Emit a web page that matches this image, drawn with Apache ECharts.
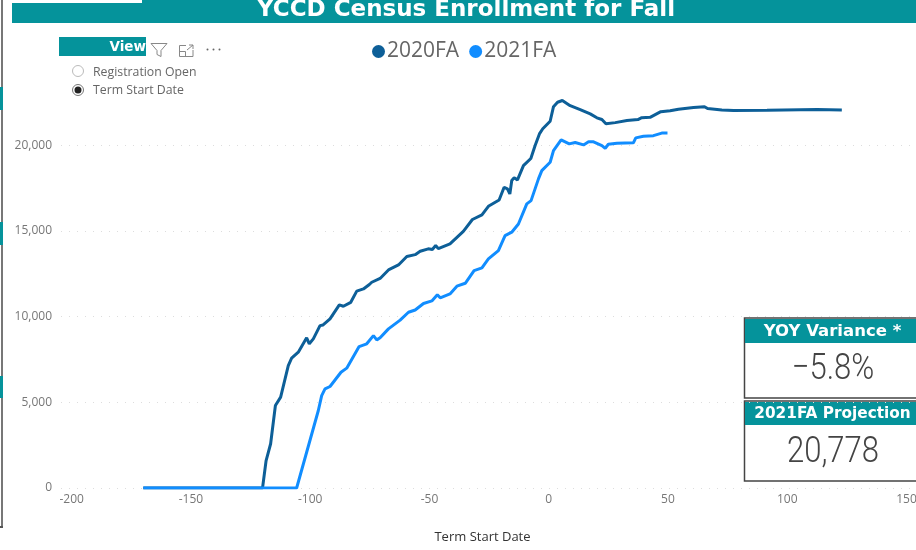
<!DOCTYPE html>
<html>
<head>
<meta charset="utf-8">
<style>html,body{margin:0;padding:0;background:#fff}#chart{width:916px;height:550px}</style>
<script src="https://cdn.jsdelivr.net/npm/echarts@6/dist/echarts.min.js"></script>
</head>
<body>
<div id="chart"></div>
<script>
// values
var days2020 = [-170,-120,-118.5,-116.6,-114.6,-112.4,-109.2,-107.8,-105,-101.5,-100.4,-98.7,-95.9,-94.6,-91.7,-87.8,-86.1,-83,-80.5,-77.7,-75.2,-74.2,-70.7,-67,-63,-59.5,-56,-53.9,-50.5,-48.8,-47.4,-46.3,-41.4,-35.8,-32,-28,-25.3,-20.8,-18.7,-17.3,-16.3,-15.5,-14.5,-13.1,-10.6,-7.5,-5.7,-3.9,-2.5,0.6,2,3.7,5.7,9,13.2,17.4,20.2,22.3,24,27.9,32.8,37.4,39,42.5,47,50.9,54.4,60.7,65.3,66.6,72.6,77.5,91.5,112.5,122.9];
var values2020 = [0,0,1600,2580,4810,5300,7140,7570,7920,8760,8410,8700,9470,9510,9860,10680,10600,10830,11480,11610,11870,12000,12220,12740,13010,13500,13610,13810,13950,13910,14140,13960,14240,14970,15660,15930,16430,16800,17540,17450,17150,17930,18090,17970,18800,19220,19970,20650,20950,21390,22240,22500,22600,22300,22070,21820,21590,21490,21240,21310,21430,21490,21600,21620,21950,22000,22090,22190,22240,22130,22050,22010,22030,22070,22050];
var days2021 = [-170,-105.7,-96.6,-95.2,-93.8,-91.7,-87.1,-84.7,-79.5,-76.3,-73.5,-72.1,-70.7,-67.2,-62.3,-58.8,-56,-52.5,-49,-46.7,-45.5,-41.4,-38.5,-35,-31.3,-28,-25.3,-21.1,-18.3,-15.5,-12.7,-9.2,-7.4,-4.3,-2.9,0.6,2,5.2,8.6,11.1,14.6,16.7,18.8,22.3,23.7,25,28.6,35.5,36.5,39.7,43.9,47.4,49.8];
var values2021 = [0,0,4520,5390,5780,5920,6750,6990,8250,8410,8890,8640,8760,9280,9790,10250,10380,10760,10910,11270,11090,11320,11770,11940,12680,12840,13360,13850,14720,14920,15400,16570,16760,18030,18510,19000,19680,20300,20070,20150,20010,20190,20190,19970,19810,20050,20110,20130,20420,20510,20550,20700,20700];
var xTicks = [-200,-150,-100,-50,0,50,100,150];
var yTicks = [0,5000,10000,15000,20000];

function zip(a, b) {
    return a.map(function (d, i) { return [d, b[i]]; });
}

var teal = '#05939b';
var uiFont = '"Open Sans", "Noto Sans", sans-serif';
var iconLine = {fill: 'none', stroke: '#888', lineWidth: 1};

function tealRect(x, y, w, h) {
    return {type: 'rect', shape: {x: x, y: y, width: w, height: h}, style: {fill: teal}};
}
function label(x, y, text, font, fill, align) {
    return {type: 'text', x: x, y: y, style: {text: text, font: font, fill: fill, align: align || 'left', verticalAlign: 'middle'}};
}
function dot(cx) {
    return {type: 'circle', shape: {cx: cx, cy: 49.5, r: 1}, style: {fill: '#666'}};
}
function card(y, h, headH, head, headSize, value) {
    var big = label(833, y + headH + (h - headH) / 2, value, '300 37px Roboto', '#444', 'center');
    big.scaleX = 0.84;
    return [
        {type: 'rect', shape: {x: 744.5, y: y, width: 180, height: h}, style: {fill: '#fff', stroke: '#444', lineWidth: 1.5}},
        tealRect(745, y + 1, 171, headH),
        label(832.5, y + 2 + headH / 2, head, 'bold ' + headSize + 'px "DejaVu Sans"', '#fff', 'center'),
        big
    ];
}

var chart = echarts.init(document.getElementById('chart'));

var option = {
    animation: false,
    backgroundColor: '#fff',
    color: ['#0d5f98', '#118dff'],
    legend: {
        top: 36,
        left: 367,
        icon: 'circle',
        itemWidth: 13,
        itemHeight: 13,
        itemGap: 10,
        textStyle: {fontSize: 21, color: '#666', fontFamily: uiFont, padding: [0, 0, 0, -3]},
        data: ['2020FA', '2021FA']
    },
    grid: {left: 61, right: 0, top: 76.5, bottom: 62, outerBoundsMode: 'none'},
    xAxis: {
        type: 'value',
        min: -204.5,
        max: 154,
        name: 'Term Start Date',
        nameLocation: 'middle',
        nameGap: 43,
        nameTextStyle: {fontSize: 13, color: '#333', fontFamily: uiFont, padding: [0, 12, 0, 0]},
        axisLine: {show: false},
        axisTick: {show: false, customValues: xTicks},
        splitLine: {show: false},
        axisLabel: {customValues: xTicks, fontSize: 12, color: '#777', margin: 6, fontFamily: uiFont}
    },
    yAxis: {
        type: 'value',
        min: 0,
        max: 24000,
        axisLine: {show: false},
        axisTick: {show: false, customValues: yTicks},
        splitLine: {show: true, lineStyle: {color: '#ddd', type: [1, 7], width: 1}},
        axisLabel: {
            customValues: yTicks, fontSize: 12, color: '#777', margin: 9, fontFamily: uiFont,
            formatter: function (v) { return v.toLocaleString('en-US'); }
        }
    },
    series: [
        {name: '2020FA', type: 'line', symbol: 'none', lineStyle: {width: 3}, data: zip(days2020, values2020)},
        {name: '2021FA', type: 'line', symbol: 'none', lineStyle: {width: 3}, data: zip(days2021, values2021)}
    ],
    graphic: [].concat(
        [
            // title band
            tealRect(12, 0, 904, 23),
            {type: 'rect', shape: {x: 12, y: 0, width: 130, height: 3}, style: {fill: '#fff'}},
            label(466, 10, 'YCCD Census Enrollment for Fall', 'bold 23px "DejaVu Sans"', '#fff', 'center'),
            // left edge of the page
            {type: 'rect', shape: {x: 1, y: 0, width: 2, height: 527}, style: {fill: '#777'}},
            {type: 'rect', shape: {x: 0, y: 526, width: 3, height: 2}, style: {fill: '#555'}},
            tealRect(0, 87, 3, 23),
            tealRect(0, 222, 3, 23),
            tealRect(0, 376, 3, 22),
            // view slicer
            tealRect(59, 37, 87, 19),
            label(146, 47, 'View', 'bold 13.5px "DejaVu Sans"', '#fff', 'right'),
            {type: 'polygon', shape: {points: [[151, 43.5], [167, 43.5], [161, 50.5], [161, 56.5], [157, 54.5], [157, 50.5]]}, style: iconLine},
            {type: 'polyline', shape: {points: [[186, 45.5], [179.5, 45.5], [179.5, 56.5], [193, 56.5], [193, 50]]}, style: iconLine},
            {type: 'polyline', shape: {points: [[179.5, 51.5], [185.5, 51.5], [185.5, 56.5]]}, style: iconLine},
            {type: 'polyline', shape: {points: [[187, 50], [193, 45]]}, style: iconLine},
            {type: 'polyline', shape: {points: [[189, 45], [193, 45], [193, 49]]}, style: iconLine},
            dot(207.5), dot(213.5), dot(219.5),
            {type: 'circle', shape: {cx: 78, cy: 71, r: 5.5}, style: {fill: '#fff', stroke: '#bbb', lineWidth: 1}},
            {type: 'circle', shape: {cx: 78, cy: 90, r: 5.5}, style: {fill: '#fff', stroke: '#777', lineWidth: 1}},
            {type: 'circle', shape: {cx: 78, cy: 90, r: 3.5}, style: {fill: '#222'}},
            label(93, 72, 'Registration Open', '12.3px ' + uiFont, '#666'),
            label(93, 90.5, 'Term Start Date', '12.3px ' + uiFont, '#666')
        ],
        card(318, 80, 24, 'YOY Variance *', 16.5, '\u22125.8%'),
        card(401, 80, 23, '2021FA Projection', 15.3, '20,778')
    )
};

chart.setOption(option);
</script>
</body>
</html>
